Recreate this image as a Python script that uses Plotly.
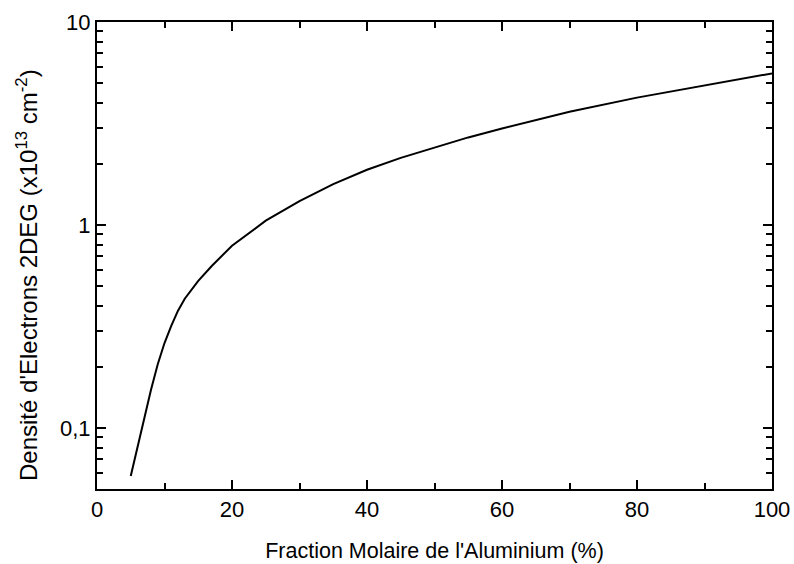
import plotly.graph_objects as go

x_al = [5, 6, 7, 8, 9, 10, 11, 12, 13, 15, 17, 20, 25, 30, 35, 40, 45, 50, 55, 60, 70, 80, 90, 100]
n_2deg = [0.058, 0.081, 0.113, 0.154, 0.206, 0.262, 0.318, 0.378, 0.433, 0.530, 0.628,
          0.79, 1.05, 1.31, 1.59, 1.87, 2.14, 2.41, 2.70, 2.99, 3.61, 4.24, 4.88, 5.58]

y_ticks = [0.1, 1, 10]
y_ticktext = ["0,1", "1", "10"]
x_ticks = [0, 20, 40, 60, 80, 100]
x_minor = [10, 30, 50, 70, 90]
y_minor = [m * d for d in (0.01, 0.1, 1) for m in range(2, 10)]

fig = go.Figure()
fig.add_trace(go.Scatter(x=x_al, y=n_2deg, mode="lines", line=dict(color="black", width=2),
                         showlegend=False))

fam = "Liberation Sans, Arial, sans-serif"
tickfont = dict(family=fam, size=22, color="black")
xtitlefont = dict(family=fam, size=21.5, color="black")
ytitlefont = dict(family=fam, size=24, color="black")

fig.update_layout(
    width=794, height=564,
    margin=dict(l=97, r=22, t=22, b=75, pad=0),
    paper_bgcolor="white", plot_bgcolor="white",
    font=tickfont,
    xaxis=dict(
        range=[0, 100], tickmode="array", tickvals=x_ticks, automargin=False,
        ticks="inside", ticklen=9, tickwidth=2, tickcolor="black",
        showline=True, linewidth=2, linecolor="black", mirror="ticks",
        showgrid=False, zeroline=False,
        minor=dict(tickvals=x_minor, ticks="inside", ticklen=6, tickwidth=2,
                   tickcolor="black", showgrid=False),
        title=dict(text="Fraction Molaire de l'Aluminium (%)", font=xtitlefont, standoff=22),
        tickfont=tickfont,
    ),
    yaxis=dict(
        type="log", range=[-1.301, 1], tickmode="array", tickvals=y_ticks, ticktext=y_ticktext,
        automargin=False,
        ticks="inside", ticklen=9, tickwidth=2, tickcolor="black",
        showline=True, linewidth=2, linecolor="black", mirror="ticks",
        showgrid=False, zeroline=False,
        minor=dict(tickvals=y_minor, ticks="inside", ticklen=6, tickwidth=2,
                   tickcolor="black", showgrid=False),
        tickfont=tickfont,
    ),
    annotations=[dict(
        text="Densité d'Electrons 2DEG (x10<sup>13</sup> cm<sup>-2</sup>)",
        textangle=-90, font=ytitlefont, showarrow=False,
        xref="paper", yref="paper", x=(27 - 97) / 675, y=(489 - 275) / 467,
        xanchor="center", yanchor="middle",
    )],
)

fig.write_html("out.html")
